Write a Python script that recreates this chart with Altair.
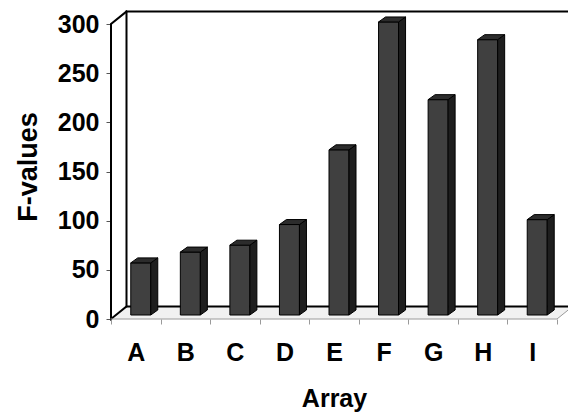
import json
import altair as alt
import pandas as pd

# ---- data ----
categories = ["A", "B", "C", "D", "E", "F", "G", "H", "I"]
f_values = [53, 64, 71, 92, 168, 298, 219, 280, 97]
y_ticks = [0, 50, 100, 150, 200, 250, 300]

# ---- layout constants (pixels) ----
W, H = 457, 307
KX = 446 / 9          # px per category
KY = 295 / 300        # px per F unit
X_MIN = -0.5
X_MAX = X_MIN + W / KX
Y_MAX = H / KY
N = len(categories)

WALL_DX, WALL_DY = 15.5 / KX, 12.5 / KY     # depth of floor/wall
BAR_SX, BAR_SY = 5 / KX, 4 / KY             # bar placement in depth
BAR_HW = 10 / KX                            # half width of front face
BAR_DX, BAR_DY = 7 / KX, 5 / KY             # bar depth

FONT = "Liberation Sans"

xs = alt.Scale(domain=[X_MIN, X_MAX], nice=False, zero=False)
ys = alt.Scale(domain=[0, Y_MAX], nice=False, zero=False)

boundaries = [i - 0.5 for i in range(N + 1)]
label_expr = json.dumps(categories + [""]) + "[round(datum.value + 0.5)]"
XAX = alt.Axis(
    values=boundaries, labelExpr=label_expr, labelOffset=KX / 2,
    domain=False, grid=False, ticks=True, tickSize=5, tickColor="#9a9a9a",
    labelFont=FONT, labelFontSize=25, labelFontWeight="bold", labelColor="#000000",
    labelPadding=16, labelOverlap=False, labelBound=False, labelFlush=False,
    title="Array", titleFont=FONT, titleFontSize=25, titleFontWeight="bold",
    titleColor="#000000", titleX=223, titleY=67, titleAnchor="middle")
YAX = alt.Axis(
    values=y_ticks, domain=False, grid=False, tickSize=5, tickColor="#555555",
    labelFont=FONT, labelFontSize=25, labelFontWeight="bold", labelColor="#000000",
    labelPadding=7, labelOverlap=False, labelBound=False, labelFlush=False,
    title="F-values", titleFont=FONT, titleFontSize=27, titleFontWeight="bold",
    titleColor="#000000", titleX=-75, titleY=154.5, titleAngle=270,
    titleBaseline="alphabetic", titleAlign="center")


def X(field):
    return alt.X(field, scale=xs, axis=XAX)


def Y(field):
    return alt.Y(field, scale=ys, axis=YAX)


# ---- floor fill ----
floor = pd.DataFrame({
    "y": [0, WALL_DY],
    "x": [X_MIN, X_MIN + WALL_DX],
    "x2": [N - 0.5, N - 0.5 + WALL_DX],
})
floor_layer = alt.Chart(floor).mark_area(orient="horizontal", color="#f1f1f1").encode(
    y=Y("y:Q"), x=X("x:Q"), x2="x2:Q",
)

# ---- frame lines ----
segs = []


def add(seg, pts, color, width):
    for i, (x, y) in enumerate(pts):
        segs.append({"seg": seg, "i": i, "x": x, "y": y, "c": color, "w": width})


add("front", [(X_MIN + WALL_DX, WALL_DY), (X_MIN, 0), (X_MIN, 300),
              (X_MIN + WALL_DX, 300 + WALL_DY)], "#000000", 2)
add("wall", [(X_MAX, 300 + WALL_DY), (X_MIN + WALL_DX, 300 + WALL_DY),
             (X_MIN + WALL_DX, WALL_DY), (X_MAX, WALL_DY)], "#000000", 2)
add("floorfront", [(X_MIN, 0), (N - 0.5, 0), (N - 0.5 + WALL_DX, WALL_DY)], "#9a9a9a", 1)
seg_df = pd.DataFrame(segs)
lines_layer = alt.Chart(seg_df).mark_line(strokeCap="square").encode(
    x=X("x:Q"), y=Y("y:Q"),
    detail="seg:N",
    order="i:Q",
    stroke=alt.Stroke("c:N", scale=None),
    strokeWidth=alt.StrokeWidth("w:Q", scale=None),
)

# ---- bars ----
front = pd.DataFrame({
    "cat": categories,
    "x": [i - BAR_HW + BAR_SX for i in range(N)],
    "x2": [i + BAR_HW + BAR_SX for i in range(N)],
    "y": [BAR_SY] * N,
    "y2": [BAR_SY + v for v in f_values],
})
side_rows, top_rows = [], []
for i, (c, v) in enumerate(zip(categories, f_values)):
    r = i + BAR_HW + BAR_SX
    l = i - BAR_HW + BAR_SX
    side_rows.append({"cat": c, "x": r, "y": BAR_SY, "y2": BAR_SY + v})
    side_rows.append({"cat": c, "x": r + BAR_DX, "y": BAR_SY + BAR_DY, "y2": BAR_SY + v + BAR_DY})
    top_rows.append({"cat": c, "y": BAR_SY + v, "x": l, "x2": r})
    top_rows.append({"cat": c, "y": BAR_SY + v + BAR_DY, "x": l + BAR_DX, "x2": r + BAR_DX})
side = pd.DataFrame(side_rows)
topf = pd.DataFrame(top_rows)

front_layer = alt.Chart(front).mark_rect(color="#404040", stroke="#000000", strokeWidth=1).encode(
    x=X("x:Q"), x2="x2:Q", y=Y("y:Q"), y2="y2:Q",
)
side_layer = alt.Chart(side).mark_area(orient="vertical", color="#1e1e1e",
                                       stroke="#000000", strokeWidth=1).encode(
    x=X("x:Q"), y=Y("y:Q"), y2="y2:Q", detail="cat:N",
)
top_layer = alt.Chart(topf).mark_area(orient="horizontal", color="#2c2c2c",
                                      stroke="#000000", strokeWidth=1).encode(
    y=Y("y:Q"), x=X("x:Q"), x2="x2:Q", detail="cat:N",
)

chart = alt.layer(
    floor_layer, lines_layer, front_layer, side_layer, top_layer
).properties(
    width=W, height=H,
    padding={"left": 111, "top": 12, "right": 0, "bottom": 95},
    autosize=alt.AutoSizeParams(type="none"),
    background="#ffffff",
).configure_view(stroke=None)

chart.save("out.html", embed_options={"renderer": "svg", "actions": False})
